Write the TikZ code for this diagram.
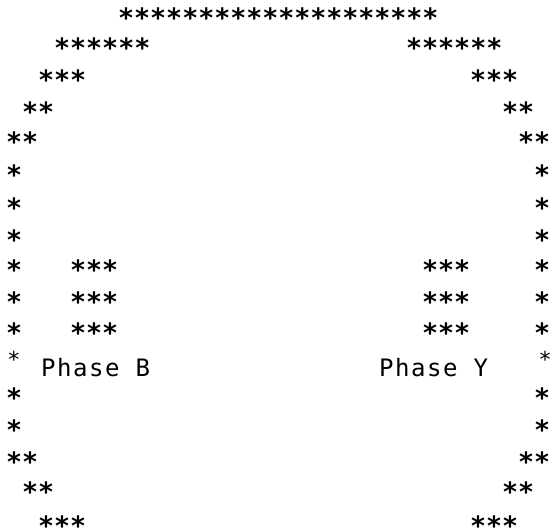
\documentclass[tikz,border=0pt]{standalone}
\usepackage{fontspec}
\newfontfamily\starfont{DejaVu Sans Mono}
\newfontfamily\phasefont[LetterSpace=6.5]{DejaVu Sans Mono}
\newfontfamily\smallstarfont{DejaVu Sans}
\tikzset{
  stars/.style={inner sep=0pt, anchor=base west, font=\starfont\bfseries\fontsize{26.6}{26.6}\selectfont},
  phase/.style={inner sep=0pt, anchor=base west, font=\phasefont\fontsize{24}{24}\selectfont},
  smallstar/.style={inner sep=0pt, anchor=base, font=\smallstarfont\fontsize{22}{22}\selectfont},
}
% \grp{name}{col}{row centre y in px}{text}
\newcommand\grp[4]{\node[stars] (#1) at ({6+16*#2}, {#3+6}) {\raisebox{-9pt}[13pt][0pt]{#4}};}
\begin{document}
\begin{tikzpicture}[x=1pt,y=-1pt]
\useasboundingbox (0,0) rectangle (560,529);
\grp{t1}{7}{13}{********************}
\grp{l2}{3}{43}{******}  \grp{r2}{25}{43}{******}
\grp{l3}{2}{75}{***}     \grp{r3}{29}{75}{***}
\grp{l4}{1}{107}{**}     \grp{r4}{31}{107}{**}
\grp{l5}{0}{137}{**}     \grp{r5}{32}{137}{**}
\grp{l6}{0}{170}{*}      \grp{r6}{33}{170}{*}
\grp{l7}{0}{203}{*}      \grp{r7}{33}{203}{*}
\grp{l8}{0}{235}{*}      \grp{r8}{33}{235}{*}
\grp{l9}{0}{265}{*}   \grp{bl9}{4}{265}{***}   \grp{br9}{26}{265}{***}   \grp{r9}{33}{265}{*}
\grp{l10}{0}{297}{*}  \grp{bl10}{4}{297}{***}  \grp{br10}{26}{297}{***}  \grp{r10}{33}{297}{*}
\grp{l11}{0}{328}{*}  \grp{bl11}{4}{328}{***}  \grp{br11}{26}{328}{***}  \grp{r11}{33}{328}{*}
% phase row
\node[smallstar] (l12) at (14,368) {*};
\node[phase] (phb) at (41,377) {Phase B};
\node[phase] (phy) at (379,377) {Phase Y};
\node[smallstar] (r12) at (545,368) {*};
\grp{l13}{0}{393}{*}     \grp{r13}{33}{393}{*}
\grp{l14}{0}{425}{*}     \grp{r14}{33}{425}{*}
\grp{l15}{0}{457}{**}    \grp{r15}{32}{457}{**}
\grp{l16}{1}{487}{**}    \grp{r16}{31}{487}{**}
\grp{l17}{2}{520}{***}   \grp{r17}{29}{520}{***}
\end{tikzpicture}
\end{document}
